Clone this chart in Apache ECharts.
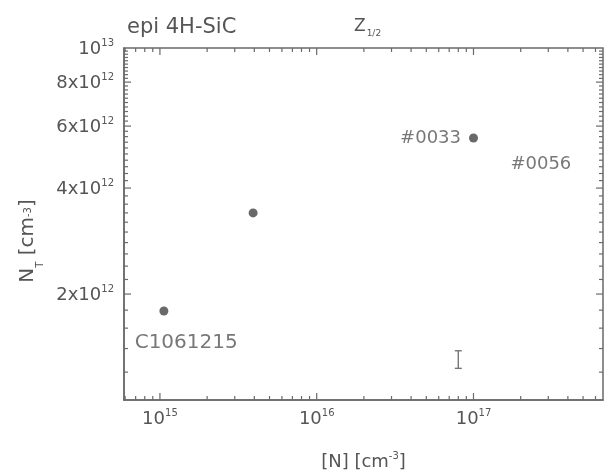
<!DOCTYPE html>
<html>
<head>
<meta charset="utf-8">
<script src="https://cdn.jsdelivr.net/npm/echarts@6/dist/echarts.min.js"></script>
<style>
  html, body { margin: 0; padding: 0; background: #fff; }
  #chart { width: 606px; height: 476px; }
</style>
</head>
<body>
<div id="chart"></div>
<script>
// Measured samples: nitrogen concentration vs Z1/2 trap density
const nitrogen = [1.06e15, 3.93e15, 1.0e17];
const trapDensity = [1.79e12, 3.40e12, 5.55e12];
const sampleLabels = ['', '', '#0033'];

// Free-standing sample annotations (data coordinates)
const noteText = ['C1061215', '#0056'];
const noteX = [6.9e14, 1.72e17];
const noteY = [1.45e12, 4.66e12];

// Representative error bar
const errX = [8.0e16];
const errLow = [1.23e12];
const errHigh = [1.38e12];

// Axis ranges and ticks
const xRange = [5.9e14, 6.7e17];
const yRange = [1e12, 1e13];
const xMajorTicks = [1e15, 1e16, 1e17];
const xMinorTicks = [6e14, 7e14, 8e14, 9e14,
  2e15, 3e15, 4e15, 5e15, 6e15, 7e15, 8e15, 9e15,
  2e16, 3e16, 4e16, 5e16, 6e16, 7e16, 8e16, 9e16,
  2e17, 3e17, 4e17, 5e17, 6e17];
const yMajorTicks = [2e12, 4e12, 6e12, 8e12];
const yLabelTicks = [2e12, 4e12, 6e12, 8e12, 1e13];
const yMinorTicks = [1.2e12, 1.4e12, 1.6e12, 1.8e12,
  2.2e12, 2.4e12, 2.6e12, 2.8e12, 3.0e12, 3.2e12, 3.4e12, 3.6e12, 3.8e12,
  4.2e12, 4.4e12, 4.6e12, 4.8e12, 5.0e12, 5.2e12, 5.4e12, 5.6e12, 5.8e12,
  6.2e12, 6.4e12, 6.6e12, 6.8e12, 7.0e12, 7.2e12, 7.4e12, 7.6e12, 7.8e12,
  8.2e12, 8.4e12, 8.6e12, 8.8e12, 9.0e12, 9.2e12, 9.4e12, 9.6e12, 9.8e12];

const FONT = 'DejaVu Sans';
const TXT = '#555555';
const AX = '#6a6a6a';

const powRich = {
  b: { fontFamily: FONT, fontSize: 18, color: TXT, lineHeight: 20, padding: [4, 0, 0, 0], verticalAlign: 'bottom' },
  sup: { fontFamily: FONT, fontSize: 10, color: TXT, lineHeight: 11, verticalAlign: 'top' }
};

function powLabel(v) {
  const e = Math.floor(Math.log10(v) + 1e-9);
  const m = Math.round(v / Math.pow(10, e));
  const head = m === 1 ? '10' : m + 'x10';
  return '{b|' + head + '}{sup|' + e + '}';
}

// Inward tick marks on all four frame sides, placed through the axis scales
function tickSeries(dim, values, len) {
  return {
    type: 'custom',
    silent: true,
    clip: false,
    data: values.map(v => dim === 'x' ? [v, yRange[0]] : [xRange[0], v]),
    encode: { x: 0, y: 1 },
    renderItem: function (params, api) {
      const cs = params.coordSys;
      const p = api.coord([api.value(0), api.value(1)]);
      const st = { stroke: AX, lineWidth: 1.2 };
      const lines = dim === 'x'
        ? [[p[0], cs.y + cs.height, p[0], cs.y + cs.height - len], [p[0], cs.y, p[0], cs.y + len]]
        : [[cs.x, p[1], cs.x + len, p[1]], [cs.x + cs.width, p[1], cs.x + cs.width - len, p[1]]];
      return {
        type: 'group',
        children: lines.map(l => ({ type: 'line', shape: { x1: l[0], y1: l[1], x2: l[2], y2: l[3] }, style: st }))
      };
    }
  };
}

const chart = echarts.init(document.getElementById('chart'), null, { renderer: 'canvas' });

const xAxis = {
  type: 'log', logBase: 10, position: 'bottom',
  min: xRange[0], max: xRange[1],
  splitLine: { show: false },
  axisLine: { show: true, onZero: false, lineStyle: { color: AX, width: 1.5 } },
  axisTick: { show: false },
  axisLabel: { show: true, interval: 0, customValues: xMajorTicks, margin: 8, formatter: powLabel, rich: powRich },
  name: '{t|[N] [cm}{sup|-3}{t|]}',
  nameLocation: 'middle',
  nameGap: 51,
  nameTextStyle: { rich: {
    t: { fontFamily: FONT, fontSize: 18, color: TXT, lineHeight: 20, padding: [4, 0, 0, 0], verticalAlign: 'bottom' },
    sup: { fontFamily: FONT, fontSize: 10, color: TXT, lineHeight: 11, verticalAlign: 'top' }
  } }
};

const yAxis = {
  type: 'log', logBase: 10, position: 'left',
  min: yRange[0], max: yRange[1],
  splitLine: { show: false },
  axisLine: { show: true, onZero: false, lineStyle: { color: AX, width: 1.5 } },
  axisTick: { show: false },
  axisLabel: { show: true, interval: 0, customValues: yLabelTicks, margin: 10, formatter: powLabel, rich: powRich },
  name: '{t|N}{sub|T}{t| [cm}{sup|-3}{t|]}',
  nameLocation: 'middle',
  nameGap: 77,
  nameTextStyle: {
    padding: [0, 34, 0, 0],
    rich: {
      t: { fontFamily: FONT, fontSize: 20, color: TXT, lineHeight: 22, padding: [4, 0, 8, 0], verticalAlign: 'bottom' },
      sup: { fontFamily: FONT, fontSize: 10, color: TXT, lineHeight: 11, verticalAlign: 'top' },
      sub: { fontFamily: FONT, fontSize: 10, color: TXT, lineHeight: 11, verticalAlign: 'bottom' }
    }
  }
};

chart.setOption({
  animation: false,
  backgroundColor: '#ffffff',
  title: [
    {
      text: 'epi 4H-SiC', left: 127, top: 18, padding: 0,
      textStyle: { fontFamily: FONT, fontSize: 21, fontWeight: 'normal', color: TXT, lineHeight: 20 }
    },
    {
      text: '{z|Z}{s|1/2}', left: 354, top: 18, padding: 0,
      textStyle: {
        fontWeight: 'normal',
        rich: {
          z: { fontFamily: FONT, fontSize: 17, fontWeight: 'normal', color: TXT, lineHeight: 20, verticalAlign: 'top' },
          s: { fontFamily: FONT, fontSize: 9, fontWeight: 'normal', color: TXT, lineHeight: 10, padding: [14, 0, 0, 1], verticalAlign: 'bottom' }
        }
      }
    }
  ],
  grid: {
    left: 124, right: 3, top: 48, bottom: 76,
    show: true, borderColor: AX, borderWidth: 1.5, backgroundColor: 'transparent',
    containLabel: false, outerBoundsMode: 'none'
  },
  xAxis: xAxis,
  yAxis: yAxis,
  series: [
    tickSeries('x', xMajorTicks, 7),
    tickSeries('x', xMinorTicks, 4),
    tickSeries('y', yMajorTicks, 7),
    tickSeries('y', yMinorTicks, 4),
    {
      type: 'scatter',
      symbol: 'circle', symbolSize: 9,
      itemStyle: { color: '#444444' },
      data: nitrogen.map((x, i) => ({ value: [x, trapDensity[i]], name: sampleLabels[i] })),
      label: {
        show: true, position: 'left', distance: 8,
        formatter: p => p.name,
        fontFamily: FONT, fontSize: 18, color: TXT
      }
    },
    {
      type: 'scatter',
      symbolSize: 0,
      silent: true,
      data: noteText.map((t, i) => ({
        value: [noteX[i], noteY[i]], name: t,
        label: { fontSize: t.length > 6 ? 20 : 18 }
      })),
      label: {
        show: true, position: 'right', distance: 0,
        formatter: p => p.name,
        fontFamily: FONT, fontSize: 18, color: TXT
      }
    },
    {
      type: 'custom',
      data: errX.map((x, i) => [x, errLow[i], errHigh[i]]),
      encode: { x: 0, y: [1, 2] },
      renderItem: function (params, api) {
        const lo = api.coord([api.value(0), api.value(1)]);
        const hi = api.coord([api.value(0), api.value(2)]);
        const w = 3.5;
        const st = { stroke: '#777', lineWidth: 1.4 };
        return {
          type: 'group',
          children: [
            { type: 'line', shape: { x1: lo[0], y1: lo[1], x2: hi[0], y2: hi[1] }, style: st },
            { type: 'line', shape: { x1: lo[0] - w, y1: lo[1], x2: lo[0] + w, y2: lo[1] }, style: st },
            { type: 'line', shape: { x1: hi[0] - w, y1: hi[1], x2: hi[0] + w, y2: hi[1] }, style: st }
          ]
        };
      }
    }
  ]
});
</script>
</body>
</html>
